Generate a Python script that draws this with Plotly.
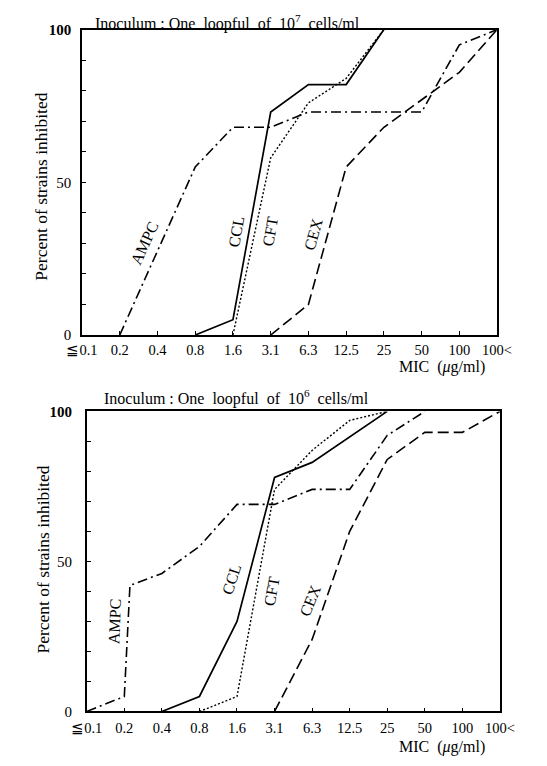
import plotly.graph_objects as go

# ---------------- data ----------------
mic_labels = ["≦0.1", "0.2", "0.4", "0.8", "1.6", "3.1", "6.3", "12.5", "25", "50", "100", "100<"]

# Inoculum 10^7 cells/ml (x = MIC category index)
top_ampc_x = [1, 3, 4, 5, 6, 9, 10, 11]
top_ampc_y = [0, 55, 68, 68, 73, 73, 95, 100]
top_ccl_x = [3, 4, 5, 6, 7, 8]
top_ccl_y = [0, 5, 73, 82, 82, 100]
top_cft_x = [4, 5, 6, 7, 8]
top_cft_y = [0, 58, 76, 84, 100]
top_cex_x = [5, 6, 7, 8, 10, 11]
top_cex_y = [0, 10, 55, 68, 86, 100]

# Inoculum 10^6 cells/ml
bot_ampc_x = [0, 1, 1.15, 2, 3, 4, 5, 6, 7, 8, 9]
bot_ampc_y = [0, 5, 42, 46, 55, 69, 69, 74, 74, 92, 100]
bot_ccl_x = [2, 3, 4, 5, 6, 8]
bot_ccl_y = [0, 5, 30, 78, 83, 100]
bot_cft_x = [3, 4, 5, 6, 7, 8]
bot_cft_y = [0, 5, 74, 87, 97, 100]
bot_cex_x = [5, 6, 7, 8, 9, 10, 11]
bot_cex_y = [0, 24, 60, 84, 93, 93, 100]

y_ticks = list(range(0, 101, 10))
y_ticktext = ["0" if v == 0 else "50" if v == 50 else "<b>100</b>" if v == 100 else "" for v in y_ticks]

W, H = 547, 766
SERIF = "Liberation Serif, DejaVu Serif, serif"

styles = {
    "AMPC": dict(color="black", width=1.6, dash="10px,4px,2px,4px"),
    "CCL": dict(color="black", width=1.7, dash="solid"),
    "CFT": dict(color="black", width=1.4, dash="2px,2px"),
    "CEX": dict(color="black", width=1.6, dash="11px,5px"),
}

fig = go.Figure()

def add(name, xs, ys, xa, ya):
    fig.add_trace(go.Scatter(x=xs, y=ys, mode="lines", name=name, line=styles[name],
                             xaxis=xa, yaxis=ya, showlegend=False, hoverinfo="skip"))

add("AMPC", top_ampc_x, top_ampc_y, "x", "y")
add("CCL", top_ccl_x, top_ccl_y, "x", "y")
add("CFT", top_cft_x, top_cft_y, "x", "y")
add("CEX", top_cex_x, top_cex_y, "x", "y")
add("AMPC", bot_ampc_x, bot_ampc_y, "x2", "y2")
add("CCL", bot_ccl_x, bot_ccl_y, "x2", "y2")
add("CFT", bot_cft_x, bot_cft_y, "x2", "y2")
add("CEX", bot_cex_x, bot_cex_y, "x2", "y2")

def xaxis(domain, anchor, standoff):
    return dict(domain=domain, anchor=anchor, range=[0, 11], tickmode="array",
                tickvals=list(range(len(mic_labels))), ticktext=mic_labels,
                ticks="inside", ticklen=4, tickwidth=1.2, tickcolor="black",
                showline=True, linecolor="black", linewidth=1.6, mirror=True,
                showgrid=False, zeroline=False,
                tickfont=dict(family=SERIF, size=14.5, color="black"),
                ticklabelstandoff=standoff)

def yaxis(domain, anchor, standoff):
    return dict(domain=domain, anchor=anchor, range=[0, 100], tickmode="array",
                tickvals=y_ticks, ticktext=y_ticktext,
                ticks="inside", ticklen=4, tickwidth=1.2, tickcolor="black",
                showline=True, linecolor="black", linewidth=1.6, mirror=True,
                showgrid=False, zeroline=False,
                tickfont=dict(family=SERIF, size=15, color="black"),
                ticklabelstandoff=standoff)

fig.update_layout(
    width=W, height=H, margin=dict(l=0, r=0, t=0, b=0),
    paper_bgcolor="white", plot_bgcolor="white",
    xaxis=xaxis([70 / W, 510 / W], "y", 1),
    yaxis=yaxis([1 - 334 / H, 1 - 22 / H], "x", 6),
    xaxis2=xaxis([75 / W, 513 / W], "y2", 2),
    yaxis2=yaxis([1 - 718.5 / H, 1 - 412 / H], "x2", 10),
)

ann = []
def txt(x, y, s, size=14, angle=0, xref="paper", yref="paper"):
    ann.append(dict(x=x, y=y, xref=xref, yref=yref, text=s, showarrow=False,
                    textangle=angle, xanchor="center", yanchor="middle",
                    font=dict(family=SERIF, size=size, color="black")))

sp = "&nbsp;"
# titles
txt(224 / W, 1 - 15 / H, f"Inoculum{sp}:{sp}One{sp}{sp}loopful{sp}{sp}of{sp}{sp}10<sup>7</sup>{sp}{sp}cells/ml", 16)
txt(234 / W, 1 - 398 / H, f"Inoculum{sp}:{sp}One{sp}{sp}loopful{sp}{sp}of{sp}{sp}10<sup>6</sup>{sp}{sp}cells/ml", 16)
# y titles
txt(27 / W, 1 - 182 / H, "Percent of strains inhibited", 17.5, -90)
txt(29 / W, 1 - 563 / H, "Percent of strains inhibited", 17.5, -90)
# x titles
txt(452 / W, 1 - 367 / H, f"MIC{sp}{sp}(<i>μ</i>g/ml)", 16)
txt(452 / W, 1 - 755 / H, f"MIC{sp}{sp}(<i>μ</i>g/ml)", 16)

# curve labels (data coordinates)
txt(1.65, 30, "AMPC", 16, -65, "x", "y")
txt(4.08, 34, "CCL", 16, -80, "x", "y")
txt(4.98, 34, "CFT", 16, -80, "x", "y")
txt(6.12, 33, "CEX", 16, -74, "x", "y")
txt(0.74, 30, "AMPC", 16, -88, "x2", "y2")
txt(3.85, 44, "CCL", 16, -72, "x2", "y2")
txt(4.92, 40, "CFT", 16, -80, "x2", "y2")
txt(5.95, 37, "CEX", 16, -68, "x2", "y2")

fig.update_layout(annotations=ann)
fig.write_html("out.html")
